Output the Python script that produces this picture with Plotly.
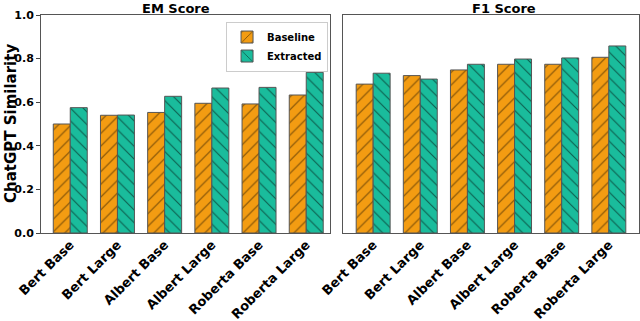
import plotly.graph_objects as go
from plotly.subplots import make_subplots

models = ["Bert Base", "Bert Large", "Albert Base", "Albert Large", "Roberta Base", "Roberta Large"]

# EM score
em_baseline = [0.500, 0.540, 0.553, 0.595, 0.592, 0.633]
em_extracted = [0.575, 0.541, 0.627, 0.665, 0.668, 0.737]

# F1 score
f1_baseline = [0.683, 0.722, 0.748, 0.774, 0.774, 0.806]
f1_extracted = [0.733, 0.706, 0.774, 0.798, 0.803, 0.858]

orange = "#F39C12"
teal = "#1ABC9C"
bold = dict(family="DejaVu Sans", weight="bold", color="black")

fig = make_subplots(rows=1, cols=2, shared_yaxes=True,
                    subplot_titles=("EM Score", "F1 Score"))

panels = [(em_baseline, em_extracted), (f1_baseline, f1_extracted)]
for col, (base, ext) in enumerate(panels, start=1):
    fig.add_trace(go.Bar(x=models, y=base, name="Baseline",
                         marker=dict(color=orange, line=dict(color="#555", width=1),
                                     pattern=dict(shape="/", fgcolor="black", size=9, solidity=0.12)),
                         showlegend=(col == 1)), row=1, col=col)
    fig.add_trace(go.Bar(x=models, y=ext, name="Extracted",
                         marker=dict(color=teal, line=dict(color="#555", width=1),
                                     pattern=dict(shape="\\", fgcolor="black", size=9, solidity=0.12)),
                         showlegend=(col == 1)), row=1, col=col)

fig.update_layout(
    width=640, height=321,
    margin=dict(l=41, r=1, t=15, b=88),
    plot_bgcolor="white", paper_bgcolor="white",
    barmode="group", bargap=0.28, bargroupgap=0,
    font=dict(size=12, **bold),
    legend=dict(x=0.48, y=0.97, xanchor="right", yanchor="top",
                bordercolor="#ccc", borderwidth=1, bgcolor="rgba(255,255,255,0.9)",
                font=dict(size=10, **bold), tracegroupgap=0, itemwidth=30),
)

fig.update_xaxes(tickangle=-45, tickfont=dict(size=13, **bold), showline=True, mirror=True,
                 linecolor="#555", linewidth=1, ticks="", showgrid=False, automargin=False,
                 ticklabelstandoff=-2)
fig.update_xaxes(domain=[0, 0.483], range=[-0.62, 5.5], row=1, col=1)
fig.update_xaxes(domain=[0.505, 1.0], range=[-0.64, 5.64], row=1, col=2)

fig.update_yaxes(range=[0, 1.0], dtick=0.2, tickformat=".1f", showline=True, mirror=True,
                 linecolor="#555", linewidth=1, showgrid=False, zeroline=False, automargin=False,
                 ticks="outside", ticklen=4, tickfont=dict(size=11, **bold))
fig.update_yaxes(ticks="", showticklabels=False, row=1, col=2)

for ann in fig.layout.annotations:
    ann.font = dict(size=13, **bold)
    ann.yshift = -3

# y-axis title as a rotated annotation at the left edge
fig.add_annotation(text="ChatGPT Similarity", textangle=-90, xref="paper", yref="paper",
                   x=0, xshift=-41, xanchor="left", y=0.5, yanchor="middle",
                   showarrow=False, font=dict(size=15, **bold))

fig.write_html("out.html", config={"displayModeBar": False},
               post_script="document.body.style.margin='0';")
